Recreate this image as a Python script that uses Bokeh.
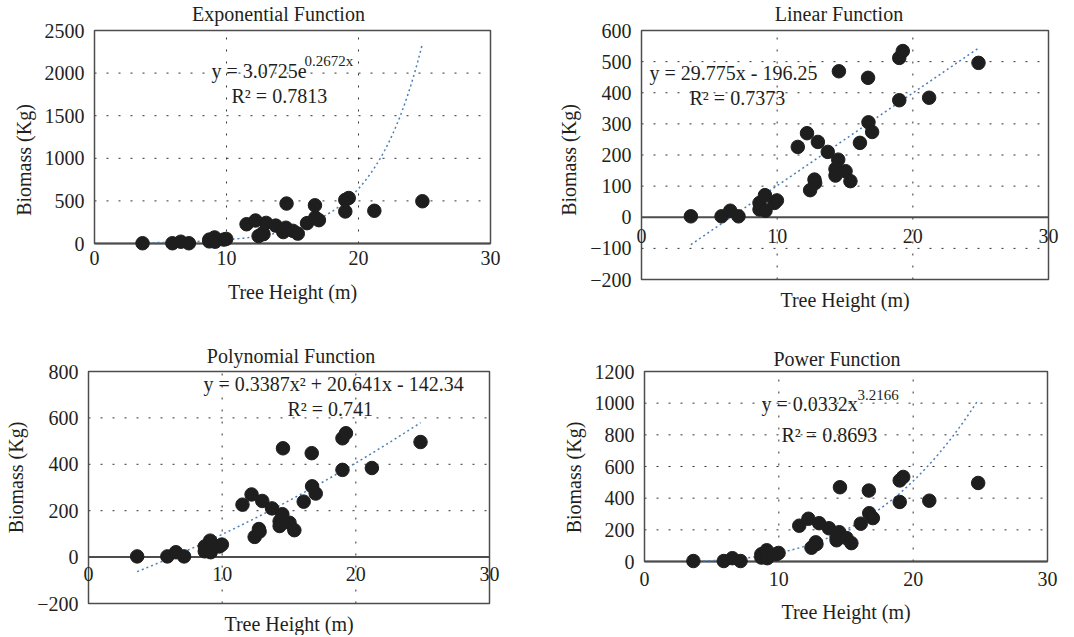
import numpy as np
from bokeh.plotting import figure
from bokeh.layouts import column, row
from bokeh.models import Range1d, FixedTicker, Label
from bokeh.embed import file_html
from bokeh.resources import INLINE

# ---- data ----
height_m = [3.64, 5.9, 6.54, 7.15, 8.7, 8.7, 9.1, 9.14, 9.8, 9.98,
            11.52, 12.2, 12.43, 12.75, 12.8, 13.0, 13.73, 14.5, 14.3, 14.3,
            14.55, 15.04, 15.4, 16.1, 16.7, 16.73, 17.0, 19.0, 19.26, 19.0,
            21.2, 24.84]
biomass_kg = [3, 3, 21, 3, 46, 25, 71, 21, 46, 54,
              226, 270, 87, 121, 110, 242, 210, 185, 155, 134,
              469, 148, 116, 239, 448, 305, 274, 512, 534, 376,
              384, 496]

x_ticks = [0, 10, 20, 30]
exp_ticks = [0, 500, 1000, 1500, 2000, 2500]
lin_ticks = [-200, -100, 0, 100, 200, 300, 400, 500, 600]
poly_ticks = [-200, 0, 200, 400, 600, 800]
pow_ticks = [0, 200, 400, 600, 800, 1000, 1200]

exp_coef = [3.0725, 0.2672]
lin_coef = [29.775, -196.25]
poly_coef = [0.3387, 20.641, -142.34]
pow_coef = [0.0332, 3.2166]

X_LABEL = "Tree Height (m)"
Y_LABEL = "Biomass (Kg)"

FONT = "Liberation Serif"
FS = "20px"
TXT = "#231f20"
AX = "#4d4d4d"
GRID = "#333333"
MINUS = {-100: "\u2212100", -200: "\u2212200"}


def text(p, x, y, s, dx=0, dy=0, align="center", size=FS):
    p.add_layout(Label(x=x, y=y, x_offset=dx, y_offset=dy, text=s,
                       text_font=FONT, text_font_size=size, text_color=TXT,
                       text_align=align, text_baseline="middle"))


def panel(title, w, h, box_left, box_top, box_w, box_h, yticks,
          title_dx, title_dy, tick_dy, xlabel_dy):
    """The frame fills the figure height; the visible box is drawn inside it."""
    pad_side = 12
    pad_top = box_top
    pad_bottom = h - box_top - box_h
    xs = (x_ticks[-1] - x_ticks[0]) / box_w
    ys = (yticks[-1] - yticks[0]) / box_h
    p = figure(width=w, height=h,
               x_range=Range1d(x_ticks[0] - pad_side * xs, x_ticks[-1] + pad_side * xs),
               y_range=Range1d(yticks[0] - pad_bottom * ys, yticks[-1] + pad_top * ys),
               x_axis_location=None, title_location=None,
               output_backend="svg", toolbar_location=None,
               min_border_left=box_left - pad_side,
               min_border_right=w - box_left - box_w - pad_side,
               min_border_top=0, min_border_bottom=0,
               background_fill_color="white", border_fill_color="white")
    p.outline_line_color = None
    p.grid.visible = False

    ax = p.yaxis[0]
    ax.ticker = FixedTicker(ticks=yticks)
    ax.major_label_overrides = MINUS
    ax.major_tick_line_color = None
    ax.minor_tick_line_color = None
    ax.major_tick_out = 0
    ax.major_tick_in = 0
    ax.axis_line_color = None
    ax.major_label_text_font = FONT
    ax.major_label_text_font_size = FS
    ax.major_label_text_color = TXT
    ax.major_label_standoff = 10 - pad_side
    ax.axis_label = Y_LABEL
    ax.axis_label_text_font = FONT
    ax.axis_label_text_font_size = FS
    ax.axis_label_text_font_style = "normal"
    ax.axis_label_text_color = TXT
    ax.axis_label_standoff = 7

    # dotted grid inside the box
    inner_x = x_ticks[1:-1]
    inner_y = [v for v in yticks[1:-1] if v != 0]
    p.segment(x0=inner_x, y0=[yticks[0]] * len(inner_x),
              x1=inner_x, y1=[yticks[-1]] * len(inner_x),
              line_color=GRID, line_dash="2 10", line_width=1)
    p.segment(x0=[x_ticks[0]] * len(inner_y), y0=inner_y,
              x1=[x_ticks[-1]] * len(inner_y), y1=inner_y,
              line_color=GRID, line_dash="2 10", line_width=1)
    # box and the x axis line at y = 0
    p.quad(left=x_ticks[0], right=x_ticks[-1], bottom=yticks[0], top=yticks[-1],
           fill_color=None, line_color=AX, line_width=1.5)
    p.line([x_ticks[0], x_ticks[-1]], [0, 0], line_color=AX, line_width=2)

    xmid = (x_ticks[0] + x_ticks[-1]) / 2
    for t in x_ticks:
        text(p, t, 0, str(t), dy=-tick_dy)
    text(p, xmid, yticks[0], X_LABEL, dy=-xlabel_dy)
    text(p, xmid, yticks[-1], title, dx=title_dx, dy=title_dy)
    return p


def add_points(p, fx):
    xs = np.linspace(min(height_m), max(height_m), 120)
    p.line(xs, fx(xs), line_color="#4a7ebb", line_width=1.5, line_dash="2 3")
    p.scatter(height_m, biomass_kg, size=13.5, marker="circle",
              fill_color="#1e1e1e", line_color="#1e1e1e")


# Exponential
p1 = panel("Exponential Function", 539, 319, 94, 30, 396, 213, exp_ticks,
           -14, 17, 14, 48)
add_points(p1, lambda x: exp_coef[0] * np.exp(exp_coef[1] * x))
text(p1, 8.86, 2019, "y = 3.0725e", align="left")
text(p1, 15.9, 2140, "0.2672x", align="left", size="15px")
text(p1, 10.38, 1737, "R\u00b2 = 0.7813", align="left")

# Linear
p2 = panel("Linear Function", 533, 319, 102, 30, 407, 249, lin_ticks,
           -6, 17, 19, 20)
add_points(p2, lambda x: lin_coef[0] * x + lin_coef[1])
text(p2, 0.59, 464, "y = 29.775x - 196.25", align="left")
text(p2, 3.54, 384, "R\u00b2 = 0.7373", align="left")

# Polynomial
p3 = panel("Polynomial Function", 539, 316, 88, 52, 401, 232, poly_ticks,
           2, 16, 17, 20)
add_points(p3, lambda x: poly_coef[0] * x ** 2 + poly_coef[1] * x + poly_coef[2])
text(p3, 8.6, 744, "y = 0.3387x\u00b2 + 20.641x - 142.34", align="left")
text(p3, 14.88, 640, "R\u00b2 = 0.741", align="left")

# Power
p4 = panel("Power Function", 533, 316, 105, 52, 403, 190, pow_ticks,
           -9, 13, 17, 50)
add_points(p4, lambda x: pow_coef[0] * x ** pow_coef[1])
text(p4, 8.71, 992, "y = 0.0332x", align="left")
text(p4, 15.86, 1050, "3.2166", align="left", size="15px")
text(p4, 10.2, 802, "R\u00b2 = 0.8693", align="left")

layout = column(row(p1, p2), row(p3, p4))
open("out.html", "w").write(file_html(layout, INLINE))
